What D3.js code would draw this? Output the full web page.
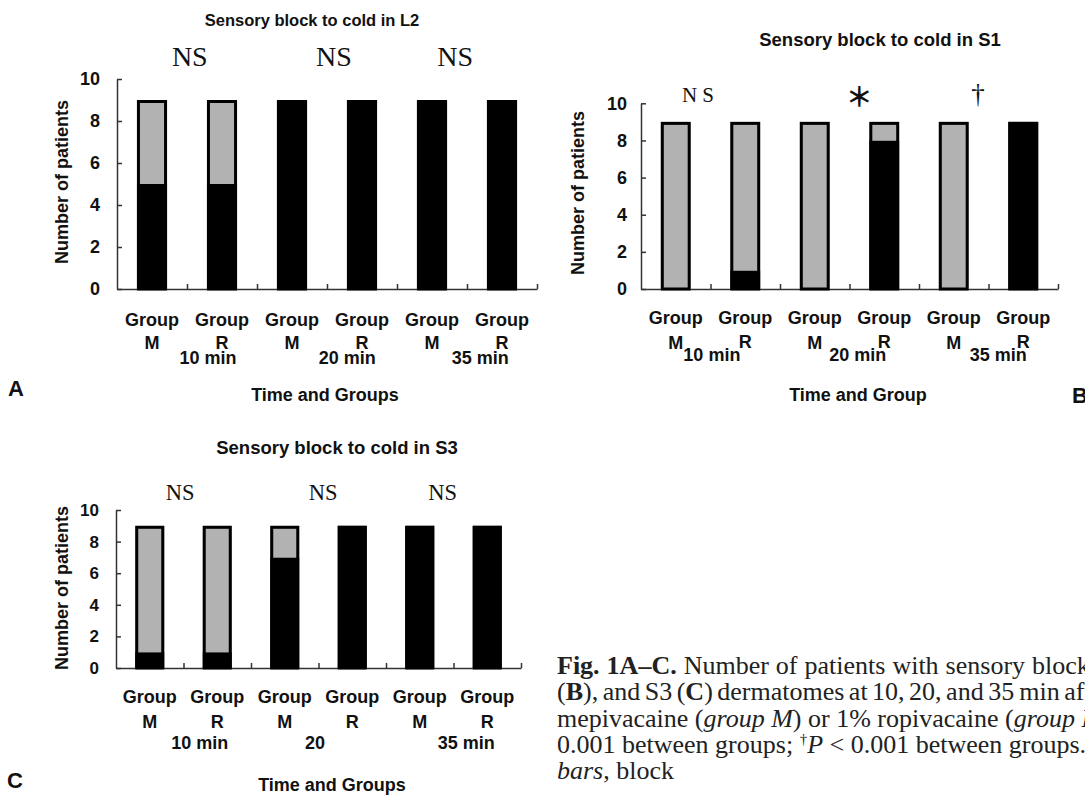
<!DOCTYPE html>
<html>
<head>
<meta charset="utf-8">
<script src="https://cdn.jsdelivr.net/npm/d3@7"></script>
<style>
  body { margin: 0; background: #fff; }
  svg { display: block; overflow: hidden; }
</style>
</head>
<body>
<svg id="fig" width="1085" height="795"></svg>
<script>
// Categories along the x axis (one bar each) and the time blocks they belong to.
const groups = ['M', 'R', 'M', 'R', 'M', 'R'];
const timesAB = ['10 min', '20 min', '35 min'];
const timesC = ['10 min', '20', '35 min'];
const yTicks = [0, 2, 4, 6, 8, 10];

// Number of patients with block (black) and without block (gray).
const blockL2 = [5, 5, 9, 9, 9, 9];
const noBlockL2 = [4, 4, 0, 0, 0, 0];
const blockS1 = [0, 1, 0, 8, 0, 9];
const noBlockS1 = [9, 8, 9, 1, 9, 0];
const blockS3 = [1, 1, 7, 9, 9, 9];
const noBlockS3 = [8, 8, 2, 0, 0, 0];

// Significance marks, one per time point.
const sigL2 = ['NS', 'NS', 'NS'];
const sigS1 = ['N S', '\uFF0A', '\u2020'];
const sigS3 = ['NS', 'NS', 'NS'];

const SANS = '"Liberation Sans", Arial, sans-serif';
const SERIF = '"Liberation Serif", "Times New Roman", serif';
const GRAY = '#b2b2b2';

const svg = d3.select('#fig');

function drawPanel(p) {
  const g = svg.append('g');
  const n = groups.length;

  const x = d3.scaleBand().domain(d3.range(n)).range([p.x0, p.x1]);
  const xTick = d3.scaleLinear().domain([0, n]).range([p.x0, p.x1]);
  const y = d3.scaleLinear().domain([0, 10]).range([p.y0, p.y10]);
  const bw = x.bandwidth() * 0.43;
  const step = x.step();

  // y axis, ticks pointing inwards
  const ya = g.append('g')
    .attr('transform', `translate(${p.x0},0)`)
    .call(d3.axisLeft(y).tickValues(yTicks).tickSize(-5).tickSizeOuter(0).tickPadding(p.tickPad));
  ya.attr('font-family', SANS).attr('font-size', p.tickFont).attr('font-weight', 'bold');
  ya.selectAll('text').attr('fill', '#111');
  ya.selectAll('line, path').attr('stroke', '#333').attr('stroke-width', 1.5);

  // x axis with ticks at category boundaries
  const xa = g.append('g')
    .attr('transform', `translate(0,${p.y0})`)
    .call(d3.axisBottom(xTick).tickValues(d3.range(1, n + 1)).tickSize(-5).tickSizeOuter(0).tickFormat(''));
  xa.selectAll('line, path').attr('stroke', '#333').attr('stroke-width', 1.5);

  const rows = groups.map((grp, i) => ({ i, block: p.block[i], none: p.noBlock[i] }));
  const bx = d => x(d.i) + (x.bandwidth() - bw) / 2;

  g.selectAll('.blk').data(rows).join('rect')
    .attr('x', bx).attr('width', bw)
    .attr('y', d => y(d.block)).attr('height', d => y(0) - y(d.block))
    .attr('fill', '#000');

  g.selectAll('.gry').data(rows.filter(d => d.none > 0)).join('rect')
    .attr('x', bx).attr('width', bw)
    .attr('y', d => y(d.block + d.none)).attr('height', d => y(d.block) - y(d.block + d.none))
    .attr('fill', GRAY);

  g.selectAll('.out').data(rows).join('rect')
    .attr('x', d => bx(d) + 1.5).attr('width', bw - 3)
    .attr('y', d => y(d.block + d.none) + 1.5).attr('height', d => y(0) - y(d.block + d.none) - 1.5)
    .attr('fill', 'none').attr('stroke', '#000').attr('stroke-width', 3);

  // category labels
  const lab = g.append('g').attr('font-family', SANS).attr('font-size', 18)
    .attr('font-weight', 'bold').attr('fill', '#111').attr('text-anchor', 'middle');
  lab.selectAll('.grp').data(groups).join('text')
    .attr('x', (d, i) => x(i) + x.bandwidth() / 2).attr('y', p.y0 + p.grpDy).text('Group');
  lab.selectAll('.let').data(groups).join('text')
    .attr('x', (d, i) => x(i) + x.bandwidth() / 2)
    .attr('y', (d, i) => p.y0 + p.letDy - (d === 'R' ? p.rRaise : 0))
    .text(d => d);
  lab.selectAll('.tim').data(p.times).join('text')
    .attr('x', (d, i) => p.x0 + p.timePos[i] * step).attr('y', p.y0 + p.timeDy).text(d => d);

  // significance marks
  g.selectAll('.sig').data(p.sig).join('text')
    .attr('x', (d, i) => p.x0 + p.sigPos[i] * step)
    .attr('y', (d, i) => p.sigY[i])
    .attr('text-anchor', 'middle')
    .attr('font-family', d => d === '\uFF0A' ? '"Noto Sans CJK JP", sans-serif' : SERIF)
    .attr('font-weight', d => d === '\uFF0A' ? 'bold' : 'normal')
    .attr('font-size', (d, i) => p.sigFont[i])
    .attr('fill', '#111')
    .text(d => d);

  // titles
  g.append('text').attr('x', p.titleX).attr('y', p.titleY).attr('text-anchor', 'middle')
    .attr('font-family', SANS).attr('font-weight', 'bold').attr('font-size', p.titleFont)
    .attr('fill', '#111').text(p.title);
  g.append('text').attr('x', p.xTitleX).attr('y', p.xTitleY).attr('text-anchor', 'middle')
    .attr('font-family', SANS).attr('font-weight', 'bold').attr('font-size', 18)
    .attr('fill', '#111').text(p.xTitle);
  g.append('text')
    .attr('transform', `translate(${p.yTitleX},${p.yTitleY}) rotate(-90)`)
    .attr('text-anchor', 'middle').attr('dominant-baseline', 'central')
    .attr('font-family', SANS).attr('font-weight', 'bold').attr('font-size', 18)
    .attr('fill', '#111').text('Number of patients');
  g.append('text').attr('x', p.letterX).attr('y', p.letterY)
    .attr('font-family', SANS).attr('font-weight', 'bold').attr('font-size', 22)
    .attr('fill', '#111').text(p.letter);
}

drawPanel({
  letter: 'A', letterX: 8, letterY: 396,
  title: 'Sensory block to cold in L2', titleX: 312, titleY: 26, titleFont: 16.5,
  xTitle: 'Time and Groups', xTitleX: 325, xTitleY: 401,
  yTitleX: 62, yTitleY: 182,
  x0: 117, x1: 537, y0: 289, y10: 79, tickPad: 17, tickFont: 18,
  block: blockL2, noBlock: noBlockL2,
  grpDy: 37, letDy: 60, rRaise: 0, timeDy: 75,
  times: timesAB, timePos: [1.3, 3.29, 5.19],
  sig: sigL2, sigPos: [1.04, 3.1, 4.83], sigY: [66, 66, 66], sigFont: [28, 28, 28]
});

drawPanel({
  letter: 'B', letterX: 1072, letterY: 403,
  title: 'Sensory block to cold in S1', titleX: 880, titleY: 46, titleFont: 18.5,
  xTitle: 'Time and Group', xTitleX: 858, xTitleY: 401,
  yTitleX: 578, yTitleY: 193,
  x0: 641, x1: 1058, y0: 289, y10: 103.3, tickPad: 14, tickFont: 18,
  block: blockS1, noBlock: noBlockS1,
  grpDy: 35, letDy: 60, rRaise: 1, timeDy: 72,
  times: timesAB, timePos: [1.02, 3.12, 5.14],
  sig: sigS1, sigPos: [0.82, 3.14, 4.85], sigY: [102, 107, 103], sigFont: [21, 27, 27]
});

drawPanel({
  letter: 'C', letterX: 7, letterY: 788,
  title: 'Sensory block to cold in S3', titleX: 337, titleY: 453.5, titleFont: 18.5,
  xTitle: 'Time and Groups', xTitleX: 332, xTitleY: 791,
  yTitleX: 62, yTitleY: 588,
  x0: 116, x1: 521, y0: 668, y10: 510, tickPad: 17, tickFont: 17,
  block: blockS3, noBlock: noBlockS3,
  grpDy: 35, letDy: 60, rRaise: 0, timeDy: 81,
  times: timesC, timePos: [1.24, 2.95, 5.19],
  sig: sigS3, sigPos: [0.95, 3.07, 4.84], sigY: [500, 500, 500], sigFont: [22.5, 22.5, 22.5]
});

// Figure caption (runs past the right edge in the original, clipped by the page)
const capLines = [
  [['Fig. 1A\u2013C.', 'bold'], [' Number of patients with sensory block to cold in L2 (', ''], ['A', 'bold'], ['), S1', '']],
  [['(', ''], ['B', 'bold'], ['), and S3 (', ''], ['C', 'bold'], [') dermatomes at 10, 20, and 35\u2009min after injection of 1.5%', '']],
  [['mepivacaine (', ''], ['group M', 'italic'], [') or 1% ropivacaine (', ''], ['group R', 'italic'], ['). NS, not significant; *P <', '']],
  [['0.001 between groups; ', ''], ['\u2020', 'sup'], ['P', 'italic'], [' < 0.001 between groups. Gray bars, no block; black', '']],
  [['bars', 'italic'], [', block', '']]
];
const capSpacing = [0.5, -2, 0, 0, 0];
const cap = svg.append('g')
  .attr('font-family', SERIF).attr('font-size', 26).attr('fill', '#222');
capLines.forEach((line, li) => {
  const txt = cap.append('text').attr('x', 557).attr('y', 674 + li * 26.3)
    .attr('word-spacing', capSpacing[li]);
  line.forEach((seg, si) => {
    const t = txt.append('tspan').text(seg[0]);
    if (seg[1] === 'bold') t.attr('font-weight', 'bold');
    if (seg[1] === 'italic') t.attr('font-style', 'italic');
    if (seg[1] === 'sup') t.attr('font-size', 15).attr('dy', -9);
    if (si > 0 && line[si - 1][1] === 'sup') t.attr('dy', 9);
  });
});
</script>
</body>
</html>
